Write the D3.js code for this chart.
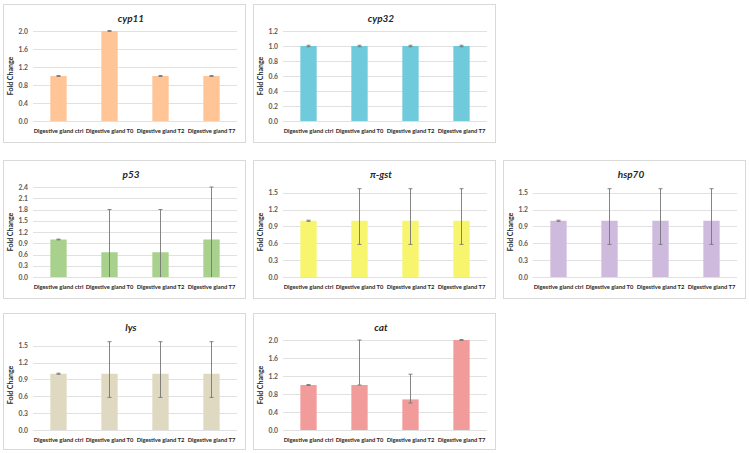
<!DOCTYPE html>
<html>
<head>
<meta charset="utf-8">
<script src="https://cdn.jsdelivr.net/npm/d3@7"></script>
<style>
  html, body { margin: 0; padding: 0; background: #ffffff; }
  svg { display: block; }
</style>
</head>
<body>
<svg id="chart" width="749" height="453"></svg>
<script>
// ---------- data ----------
const categories = ["Digestive gland ctrl", "Digestive gland T0", "Digestive gland T2", "Digestive gland T7"];
const genes = ["cyp11", "cyp32", "p53", "π-gst", "hsp70", "lys", "cat"];

const cyp11Values = [1.0, 2.0, 1.0, 1.0];
const cyp32Values = [1.0, 1.0, 1.0, 1.0];
const p53Values   = [1.0, 0.66, 0.66, 1.0];
const pigstValues = [1.0, 1.0, 1.0, 1.0];
const hsp70Values = [1.0, 1.0, 1.0, 1.0];
const lysValues   = [1.0, 1.0, 1.0, 1.0];
const catValues   = [1.0, 1.0, 0.68, 2.0];

const cyp11ErrPlus = [0.01, 0.01, 0.01, 0.01];
const cyp32ErrPlus = [0.01, 0.01, 0.01, 0.01];
const p53ErrPlus   = [0.01, 1.14, 1.14, 1.4];
const pigstErrPlus = [0.01, 0.57, 0.57, 0.57];
const hsp70ErrPlus = [0.01, 0.57, 0.57, 0.57];
const lysErrPlus   = [0.01, 0.57, 0.57, 0.57];
const catErrPlus   = [0.01, 1.0, 0.56, 0.01];

const cyp11ErrMinus = [0.01, 0.01, 0.01, 0.01];
const cyp32ErrMinus = [0.01, 0.01, 0.01, 0.01];
const p53ErrMinus   = [0.01, 1.14, 1.14, 1.4];
const pigstErrMinus = [0.01, 0.42, 0.42, 0.42];
const hsp70ErrMinus = [0.01, 0.42, 0.42, 0.42];
const lysErrMinus   = [0.01, 0.42, 0.42, 0.42];
const catErrMinus   = [0.01, 0.0, 0.08, 0.01];

const axisMax  = [2.0, 1.2, 2.4, 1.6, 1.6, 1.6, 2.0];
const tickStep = [0.4, 0.2, 0.3, 0.3, 0.3, 0.3, 0.4];
const barColors = ["#FFC596", "#6FCBDB", "#A9D18E", "#F7F56E", "#CDBADD", "#E0D9C1", "#F19C9B"];

const values   = [cyp11Values, cyp32Values, p53Values, pigstValues, hsp70Values, lysValues, catValues];
const errPlus  = [cyp11ErrPlus, cyp32ErrPlus, p53ErrPlus, pigstErrPlus, hsp70ErrPlus, lysErrPlus, catErrPlus];
const errMinus = [cyp11ErrMinus, cyp32ErrMinus, p53ErrMinus, pigstErrMinus, hsp70ErrMinus, lysErrMinus, catErrMinus];

// ---------- layout ----------
const gridPos = [[0,0],[1,0],[0,1],[1,1],[2,1],[0,2],[1,2]];
const colX = [3, 253, 503];
const rowY = [4, 160, 313];
const panelW = 242, panelH = 138;
const FONT = "Lato, 'Open Sans', 'Liberation Sans', sans-serif";

const svg = d3.select("#chart");

genes.forEach((gene, i) => {
  const [c, r] = gridPos[i];
  const x0 = colX[c], y0 = rowY[r];
  const h = r === 2 ? 136 : panelH;
  const g = svg.append("g").attr("transform", `translate(${x0},${y0})`);

  g.append("rect")
    .attr("x", 0.5).attr("y", 0.5)
    .attr("width", panelW).attr("height", h)
    .attr("fill", "#fff").attr("stroke", "#d9d9d9").attr("stroke-width", 1);

  const left = 30, right = 234, top = 27, bottom = 117;
  const x = d3.scaleBand().domain(categories).range([left, right]).paddingInner(0.68).paddingOuter(0.34);
  const y = d3.scaleLinear().domain([0, axisMax[i]]).range([bottom, top]);
  const ticks = d3.range(0, axisMax[i] + 1e-9, tickStep[i]);

  // gridlines
  g.append("g").selectAll("line").data(ticks).join("line")
    .attr("x1", left).attr("x2", right)
    .attr("y1", d => Math.round(y(d)) + 0.5).attr("y2", d => Math.round(y(d)) + 0.5)
    .attr("stroke", "#d9d9d9").attr("stroke-width", 0.8);

  // y axis labels
  const yAxis = d3.axisLeft(y).tickValues(ticks).tickFormat(d3.format(".1f")).tickSize(0).tickPadding(5);
  const ya = g.append("g").attr("transform", `translate(${left},0)`).call(yAxis);
  ya.attr("font-size", null).attr("font-family", null);
  ya.select(".domain").remove();
  ya.selectAll("text").style("font-family", FONT).style("font-size", "6.8px").style("font-weight", "bold").attr("fill", "#595959");

  // bars
  g.append("g").selectAll("rect").data(values[i]).join("rect")
    .attr("x", (d, k) => x(categories[k]))
    .attr("width", x.bandwidth())
    .attr("y", d => y(d))
    .attr("height", d => y(0) - y(d))
    .attr("fill", barColors[i]);

  // error bars
  const eb = g.append("g").attr("stroke", "#767676").attr("stroke-width", 0.9);
  values[i].forEach((v, k) => {
    const cx = x(categories[k]) + x.bandwidth() / 2;
    const hi = v + errPlus[i][k];
    const lo = Math.max(0, v - errMinus[i][k]);
    eb.append("line").attr("x1", cx).attr("x2", cx).attr("y1", y(hi)).attr("y2", y(lo));
    eb.append("line").attr("x1", cx - 2).attr("x2", cx + 2).attr("y1", y(hi)).attr("y2", y(hi));
    if (lo > 0) eb.append("line").attr("x1", cx - 2).attr("x2", cx + 2).attr("y1", y(lo)).attr("y2", y(lo));
  });

  // x axis
  const xAxis = d3.axisBottom(x).tickSize(0).tickPadding(8);
  const xa = g.append("g").attr("transform", `translate(0,${bottom})`).call(xAxis);
  xa.attr("font-size", null).attr("font-family", null);
  xa.select(".domain").remove();
  xa.selectAll("text").style("font-family", FONT).style("font-size", "5.8px").style("font-weight", "bold").attr("fill", "#262626");

  // title
  g.append("text")
    .attr("x", (left + right) / 2 - 4).attr("y", 18)
    .attr("text-anchor", "middle")
    .style("font-family", FONT).style("font-size", "10px").style("font-weight", "bold").style("font-style", "italic")
    .attr("fill", "#262626")
    .text(gene);

  // y title
  g.append("text")
    .attr("transform", `translate(10,${(top + bottom) / 2}) rotate(-90)`)
    .attr("text-anchor", "middle")
    .style("font-family", FONT).style("font-size", "7px").style("font-weight", "bold")
    .attr("fill", "#262626")
    .text("Fold Change");
});
</script>
</body>
</html>
